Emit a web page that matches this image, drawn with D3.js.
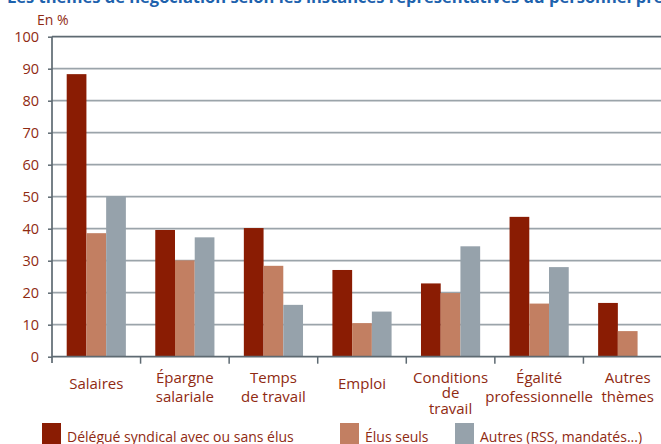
<!DOCTYPE html>
<html>
<head>
<meta charset="utf-8">
<script src="https://cdn.jsdelivr.net/npm/d3@7"></script>
<style>
  body { margin: 0; background: #fff; }
  svg text { font-family: "Open Sans", "Noto Sans", sans-serif; }
</style>
</head>
<body>
<svg id="chart" width="661" height="444"></svg>
<script>
// data
var categories = ["Salaires", "Épargne\nsalariale", "Temps\nde travail", "Emploi",
                  "Conditions\nde\ntravail", "Égalité\nprofessionnelle", "Autres\nthèmes"];
var seriesNames = ["Délégué syndical avec ou sans élus", "Élus seuls", "Autres (RSS, mandatés...)"];
var delegue = [88.3, 39.6, 40.2, 27.1, 22.9, 43.7, 16.8];
var elus = [38.6, 30.1, 28.4, 10.5, 19.9, 16.6, 8.0];
var autres = [50.2, 37.3, 16.2, 14.1, 34.5, 28.0, 0];
var yTicks = [0, 10, 20, 30, 40, 50, 60, 70, 80, 90, 100];

var colors = ["#8a1c03", "#c27f62", "#96a2ab"];
var textRed = "#8f2a12";
var axisGrey = "#5e6a72";

var svg = d3.select("#chart");

var x = d3.scaleBand().domain(categories).range([52, 672]);
var xs = d3.scaleBand().domain(seriesNames).range([14.7, x.bandwidth() - 14.7]);
var y = d3.scaleLinear().domain([0, 100]).range([356.7, 36.7]);

var values = [delegue, elus, autres];

// title (cut at top of the picture)
svg.append("text")
    .attr("x", 7).attr("y", 3)
    .attr("fill", "#1d62ad")
    .style("font-weight", "bold").style("font-size", "16.5px")
    .text("Les thèmes de négociation selon les instances représentatives du personnel présentes");

svg.append("text")
    .attr("x", 37).attr("y", 25)
    .attr("fill", textRed).style("font-size", "14px")
    .text("En %");

// gridlines
svg.append("g").selectAll("line")
    .data(yTicks.filter(function(d) { return d > 0; }))
  .enter().append("line")
    .attr("x1", 52).attr("x2", 661)
    .attr("y1", function(d) { return y(d); })
    .attr("y2", function(d) { return y(d); })
    .attr("stroke", function(d) { return d == 100 ? axisGrey : "#9ba4aa"; })
    .attr("stroke-width", 1.7);

// bars
var groups = svg.append("g").selectAll("g")
    .data(categories)
  .enter().append("g")
    .attr("transform", function(d) { return "translate(" + x(d) + ",0)"; });

groups.selectAll("rect")
    .data(function(d, i) { return seriesNames.map(function(s, j) { return {s: s, v: values[j][i], j: j}; }); })
  .enter().append("rect")
    .attr("x", function(d) { return xs(d.s); })
    .attr("width", xs.bandwidth())
    .attr("y", function(d) { return y(d.v); })
    .attr("height", function(d) { return y(0) - y(d.v); })
    .attr("fill", function(d) { return colors[d.j]; });

// y axis
var yAxis = svg.append("g")
    .attr("transform", "translate(52,0)")
    .call(d3.axisLeft(y).tickValues(yTicks).tickSize(4).tickPadding(9));
yAxis.select(".domain").attr("d", "M0,36.7V363").attr("stroke", axisGrey).attr("stroke-width", 1.7);
yAxis.selectAll(".tick line").attr("stroke", axisGrey).attr("stroke-width", 1.5);
yAxis.selectAll("text").attr("fill", textRed).style("font-size", "14.5px")
    .style("font-family", "'Open Sans', sans-serif");

// x axis
svg.append("line")
    .attr("x1", 52).attr("x2", 661)
    .attr("y1", y(0)).attr("y2", y(0))
    .attr("stroke", axisGrey).attr("stroke-width", 1.7);

var xAxis = svg.append("g")
    .attr("transform", "translate(0," + y(0) + ")")
    .call(d3.axisBottom(x).tickSize(7).tickFormat(""));
xAxis.select(".domain").remove();
xAxis.selectAll(".tick").attr("transform", function(d) { return "translate(" + (x(d) + x.bandwidth()) + ",0)"; });
xAxis.selectAll(".tick line").attr("stroke", axisGrey).attr("stroke-width", 1.5);

// category labels
categories.forEach(function(c) {
  var lines = c.split("\n");
  var step = lines.length == 3 ? 15.5 : 19;
  var y0 = lines.length == 1 ? 389 : 382.5;
  var t = svg.append("text")
      .attr("text-anchor", "middle")
      .attr("fill", textRed).style("font-size", "15px");
  lines.forEach(function(l, i) {
    t.append("tspan")
        .attr("x", x(c) + x.bandwidth() / 2)
        .attr("y", y0 + i * step)
        .text(l);
  });
});

// legend
var legendX = [42, 340, 455];
var legend = svg.append("g").selectAll("g")
    .data(seriesNames)
  .enter().append("g")
    .attr("transform", function(d, i) { return "translate(" + legendX[i] + ",423)"; });
legend.append("rect")
    .attr("width", 19).attr("height", 21)
    .attr("fill", function(d, i) { return colors[i]; });
legend.append("text")
    .attr("x", 25).attr("y", 18.5)
    .attr("fill", textRed).style("font-size", "14px")
    .text(function(d) { return d; });
</script>
</body>
</html>
